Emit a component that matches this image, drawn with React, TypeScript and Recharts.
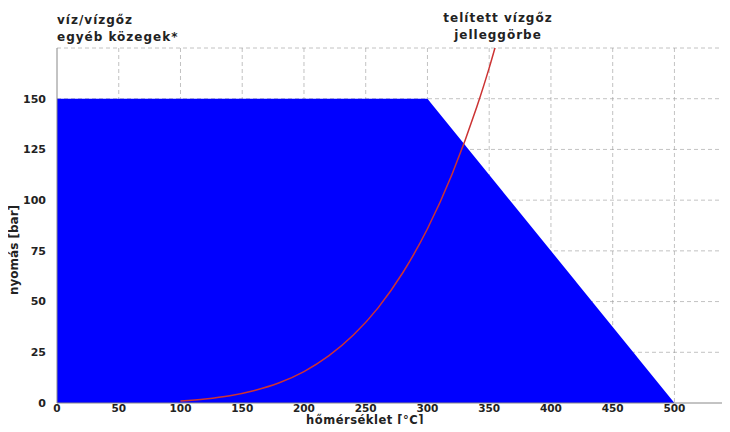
import React from "react";
import {
  ComposedChart,
  Area,
  Line,
  XAxis,
  YAxis,
  CartesianGrid,
} from "recharts";

// allowed operating envelope (temperature °C -> pressure bar)
const envTemp = [0, 300, 500];
const envPressure = [150, 150, 0];

// saturated steam curve
const satTemp = [100, 120, 140, 160, 180, 200, 220, 240, 260, 280, 300, 320, 340, 350, 360];
const satPressure = [1.0, 2.0, 3.6, 6.2, 10.0, 15.5, 23.2, 33.5, 46.9, 64.2, 85.9, 112.9, 146.0, 165.2, 186.7];

const xTicks = [0, 50, 100, 150, 200, 250, 300, 350, 400, 450, 500];
const yTicks = [0, 25, 50, 75, 100, 125, 150];
const gridX = [50, 100, 150, 200, 250, 300, 350, 400, 450, 500];
const gridY = [25, 50, 75, 100, 125, 150, 175];

const envData = envTemp.map((t, i) => ({ t, p: envPressure[i] }));
const satData = satTemp.map((t, i) => ({ t, s: satPressure[i] }));

const font = "'DejaVu Sans', sans-serif";
const tick = { fill: "#222", fontSize: 11, fontWeight: 700, fontFamily: font };
const xTick = { ...tick, fontSize: 10.5 };
const note: React.CSSProperties = {
  position: "absolute",
  fontFamily: font,
  fontWeight: 700,
  fontSize: 12,
  letterSpacing: 1,
  color: "#222",
  lineHeight: "17px",
  whiteSpace: "nowrap",
};

export default function App() {
  return (
    <div style={{ position: "relative", width: 730, height: 432, margin: -8, background: "#fff" }}>
      <ComposedChart
        width={730}
        height={432}
        margin={{ top: 48, right: 0, bottom: 0, left: 0 }}
      >
        <XAxis
          type="number"
          dataKey="t"
          domain={[0, 545]}
          ticks={xTicks}
          allowDataOverflow
          tick={xTick}
          tickLine={false}
          axisLine={{ stroke: "#888" }}
          height={29}
          tickMargin={-4}
        />
        <YAxis
          type="number"
          domain={[0, 175]}
          ticks={yTicks}
          allowDataOverflow
          tick={tick}
          tickLine={false}
          axisLine={{ stroke: "#888" }}
          width={57}
          tickMargin={5}
        />
        <Area
          data={envData}
          dataKey="p"
          type="linear"
          fill="#0000ff"
          fillOpacity={1}
          stroke="none"
          isAnimationActive={false}
        />
        <CartesianGrid
          stroke="#999"
          strokeOpacity={0.6}
          strokeDasharray="4 3"
          horizontalValues={gridY}
          verticalValues={gridX}
        />
        <Line
          data={satData}
          dataKey="s"
          type="monotone"
          stroke="#cc3333"
          strokeWidth={1.5}
          dot={false}
          isAnimationActive={false}
        />
      </ComposedChart>
      <div style={{ ...note, fontSize: 11.5, letterSpacing: 0.5, left: 290, top: 415, width: 150, textAlign: "center", lineHeight: "11px" }}>
        hőmérséklet [°C]
      </div>
      <div style={{ ...note, left: 57, top: 12 }}>
        víz/vízgőz
        <br />
        egyéb közegek*
      </div>
      <div style={{ ...note, left: 418, top: 10, width: 160, textAlign: "center" }}>
        telített vízgőz
        <br />
        jelleggörbe
      </div>
      <div
        style={{
          ...note,
          letterSpacing: 0,
          left: 14,
          top: 250,
          transform: "translate(-50%, -50%) rotate(-90deg)",
        }}
      >
        nyomás [bar]
      </div>
    </div>
  );
}
